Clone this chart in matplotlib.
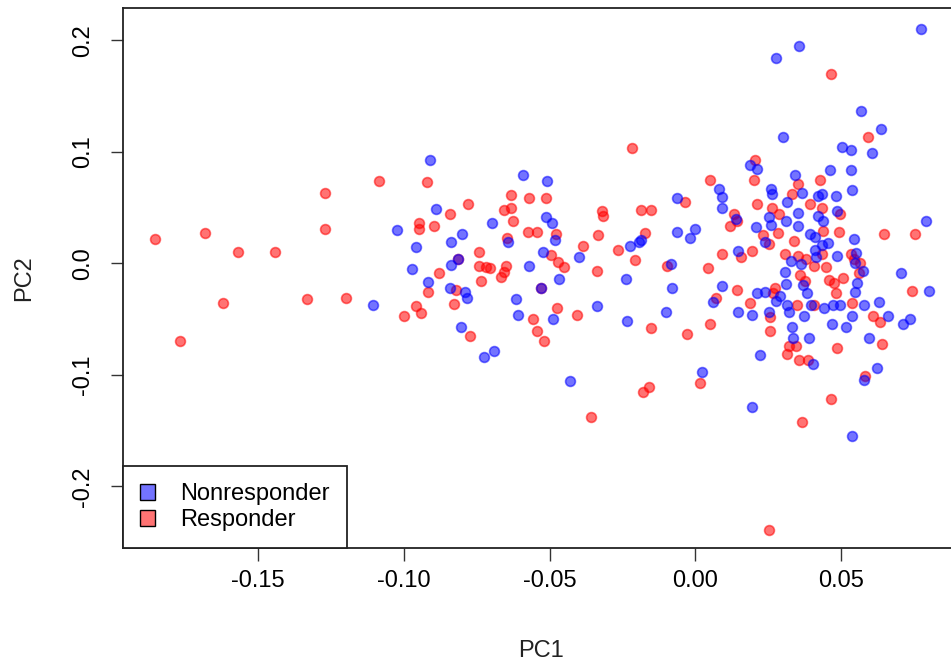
import numpy as np
import matplotlib.pyplot as plt
from matplotlib.patches import Patch

plt.rcParams['font.family'] = ['Liberation Sans', 'DejaVu Sans']
plt.rcParams['axes.unicode_minus'] = False

# Nonresponder (blue)
nonresp_pc1 = [-0.1107, -0.1024, -0.0972, -0.0957, -0.0916, -0.0909, -0.0889, -0.0843, -0.0837, -0.0837,
               -0.0816, -0.0801, -0.0789, -0.0785, -0.0805, -0.0724, -0.0691, -0.0697, -0.0643, -0.0616,
               -0.0608, -0.0593, -0.0572, -0.0529, -0.0524, -0.0514, -0.0510, -0.0493, -0.0489, -0.0483,
               -0.0468, -0.0431, -0.0400, -0.0337, -0.0239, -0.0233, -0.0225, -0.0194, -0.0185, -0.0100,
               -0.0081, -0.0085, -0.0062, -0.0062, -0.0019, -0.0002, 0.0023, 0.0060, 0.0081, 0.0090,
               0.0090, 0.0090, 0.0139, 0.0148, 0.0148, 0.0187, 0.0196, 0.0194, 0.0212, 0.0212,
               0.0208, 0.0223, 0.0240, 0.0240, 0.0252, 0.0252, 0.0260, 0.0262, 0.0258, 0.0277,
               0.0277, 0.0289, 0.0302, 0.0310, 0.0308, 0.0312, 0.0314, 0.0320, 0.0316, 0.0329,
               0.0333, 0.0335, 0.0341, 0.0354, 0.0356, 0.0352, 0.0364, 0.0366, 0.0368, 0.0373,
               0.0383, 0.0391, 0.0395, 0.0398, 0.0404, 0.0410, 0.0412, 0.0414, 0.0420, 0.0422,
               0.0433, 0.0439, 0.0435, 0.0443, 0.0454, 0.0462, 0.0472, 0.0470, 0.0481, 0.0485,
               0.0485, 0.0495, 0.0504, 0.0516, 0.0535, 0.0533, 0.0537, 0.0543, 0.0547, 0.0547,
               0.0537, 0.0539, 0.0552, 0.0556, 0.0568, 0.0576, 0.0579, 0.0579, 0.0595, 0.0606,
               0.0622, 0.0631, 0.0637, 0.0662, 0.0706, 0.0714, 0.0735, 0.0776, 0.0793, 0.0803]
nonresp_pc2 = [-0.0369, 0.0297, -0.0053, 0.0145, -0.0167, 0.0928, 0.0487, -0.0224, 0.0194, -0.0015,
               0.0042, 0.0259, -0.0255, -0.0312, -0.0567, -0.0841, -0.0787, 0.0365, 0.0194, -0.0320,
               -0.0460, 0.0795, -0.0027, -0.0224, 0.0103, 0.0415, 0.0742, 0.0358, -0.0498, 0.0213,
               -0.0141, -0.1054, 0.0061, -0.0384, -0.0137, -0.0517, 0.0156, 0.0194, 0.0209, -0.0437,
               -0.0224, -0.0008, 0.0590, 0.0281, 0.0232, 0.0308, -0.0970, -0.0350, 0.0666, 0.0593,
               0.0498, -0.0202, 0.0396, 0.0110, -0.0434, 0.0879, -0.1290, -0.0460, 0.0848, -0.0266,
               0.0323, -0.0825, -0.0255, 0.0190, -0.0434, 0.0415, 0.0669, 0.0620, 0.0346, 0.1841,
               -0.0339, -0.0293, 0.1137, 0.0377, -0.0080, -0.0186, -0.0377, -0.0437, 0.0548, 0.0019,
               -0.0567, -0.0666, 0.0795, 0.0449, 0.1951, 0.0331, -0.0004, 0.0635, -0.0194, -0.0472,
               -0.0270, -0.0670, 0.0259, -0.0369, -0.0901, 0.0118, 0.0240, 0.0061, 0.0601, 0.0422,
               0.0164, 0.0384, 0.0624, -0.0396, 0.0183, 0.0833, -0.0369, -0.0548, 0.0605, 0.0468,
               0.0068, -0.0369, 0.1042, -0.0567, 0.1020, 0.0837, 0.0662, 0.0221, 0.0004, -0.0255,
               -0.0475, -0.1544, 0.0095, -0.0179, 0.1369, -0.0065, -0.0369, -0.1042, -0.0670, 0.0989,
               -0.0940, -0.0346, 0.1206, -0.0475, -0.0084, -0.0544, -0.0502, 0.2103, 0.0377, -0.0251]

# Responder (red)
resp_pc1 = [-0.1854, -0.1684, -0.1769, -0.1621, -0.1569, -0.1444, -0.1332, -0.1272, -0.1270, -0.1197,
            -0.1086, -0.0999, -0.0959, -0.0943, -0.0947, -0.0947, -0.0920, -0.0916, -0.0897, -0.0878,
            -0.0843, -0.0828, -0.0822, -0.0780, -0.0772, -0.0741, -0.0741, -0.0737, -0.0720, -0.0706,
            -0.0668, -0.0658, -0.0651, -0.0658, -0.0631, -0.0631, -0.0624, -0.0647, -0.0572, -0.0574,
            -0.0545, -0.0556, -0.0545, -0.0520, -0.0514, -0.0495, -0.0477, -0.0475, -0.0470, -0.0452,
            -0.0406, -0.0385, -0.0359, -0.0335, -0.0337, -0.0320, -0.0316, -0.0266, -0.0219, -0.0208,
            -0.0185, -0.0173, -0.0152, -0.0181, -0.0160, -0.0152, -0.0096, -0.0035, -0.0029, 0.0015,
            0.0042, 0.0050, 0.0050, 0.0071, 0.0092, 0.0119, 0.0133, 0.0142, 0.0144, 0.0156,
            0.0187, 0.0196, 0.0200, 0.0206, 0.0212, 0.0233, 0.0252, 0.0252, 0.0256, 0.0256,
            0.0262, 0.0268, 0.0275, 0.0283, 0.0287, 0.0306, 0.0314, 0.0323, 0.0331, 0.0339,
            0.0345, 0.0352, 0.0356, 0.0348, 0.0352, 0.0358, 0.0366, 0.0375, 0.0381, 0.0385,
            0.0393, 0.0408, 0.0408, 0.0427, 0.0433, 0.0435, 0.0439, 0.0447, 0.0460, 0.0466,
            0.0464, 0.0477, 0.0481, 0.0487, 0.0493, 0.0495, 0.0506, 0.0535, 0.0537, 0.0543,
            0.0560, 0.0564, 0.0581, 0.0591, 0.0610, 0.0635, 0.0639, 0.0647, 0.0745, 0.0755,
            -0.0816, -0.0529]
resp_pc2 = [0.0220, 0.0274, -0.0692, -0.0358, 0.0103, 0.0103, -0.0320, 0.0628, 0.0310, -0.0308,
            0.0742, -0.0475, -0.0380, -0.0449, 0.0358, 0.0310, 0.0727, -0.0255, 0.0339, -0.0084,
            0.0441, -0.0361, -0.0243, 0.0533, -0.0650, 0.0099, -0.0023, -0.0156, -0.0034, -0.0042,
            -0.0126, -0.0080, -0.0027, 0.0475, 0.0498, 0.0609, 0.0384, 0.0224, 0.0582, 0.0285,
            0.0285, -0.0498, -0.0609, -0.0692, 0.0586, 0.0072, 0.0266, -0.0399, 0.0015, -0.0034,
            -0.0464, 0.0156, -0.1376, 0.0251, -0.0072, 0.0472, 0.0422, 0.0122, 0.1031, 0.0027,
            0.0479, 0.0274, 0.0475, -0.1156, -0.1111, -0.0578, -0.0027, 0.0548, -0.0635, -0.1073,
            -0.0042, 0.0749, -0.0544, -0.0308, 0.0080, 0.0335, 0.0441, 0.0384, -0.0243, 0.0061,
            -0.0358, 0.0110, 0.0749, 0.0928, 0.0536, 0.0251, -0.2393, 0.0175, -0.0483, -0.0605,
            0.0498, -0.0262, -0.0217, 0.0274, 0.0445, 0.0087, -0.0814, -0.0738, 0.0624, 0.0205,
            -0.0738, 0.0711, -0.0863, -0.0369, 0.0068, -0.0103, -0.1423, -0.0160, 0.0042, -0.0871,
            0.0536, -0.0369, -0.0027, 0.0746, 0.0080, 0.0494, 0.0289, -0.0034, -0.0148, 0.1700,
            -0.1213, -0.0179, -0.0266, -0.0761, 0.0278, 0.0441, -0.0129, 0.0080, -0.0358, 0.0038,
            -0.0084, 0.0004, -0.1012, 0.1137, -0.0475, -0.0529, -0.0719, 0.0262, -0.0251, 0.0262,
            0.0042, -0.0224]

xticks = [-0.15, -0.10, -0.05, 0.00, 0.05]
xticklabels = ['-0.15', '-0.10', '-0.05', '0.00', '0.05']
yticks = [-0.2, -0.1, 0.0, 0.1, 0.2]
yticklabels = ['-0.2', '-0.1', '0.0', '0.1', '0.2']

blue = (0, 0, 1, 0.55)
red = (1, 0, 0, 0.55)
fs = 17

fig = plt.figure(figsize=(9.51, 6.65), dpi=100)
# axes box runs a little past the right edge of the figure, like the cropped original
ax = fig.add_axes([0.1293, 0.1759, 0.8795, 0.812])

ax.scatter(resp_pc1, resp_pc2, s=50, color=red, edgecolors=red, linewidths=1.2, zorder=2)
ax.scatter(nonresp_pc1, nonresp_pc2, s=50, color=blue, edgecolors=blue, linewidths=1.2, zorder=2)

ax.set_xlim(-0.1964, 0.0906)
ax.set_ylim(-0.2553, 0.229)

ax.set_xticks(xticks)
ax.set_xticklabels(xticklabels)
ax.set_yticks(yticks)
ax.set_yticklabels(yticklabels, rotation=90, va='center')
ax.tick_params(direction='out', length=9, width=1, labelsize=fs, color='#333333')
ax.tick_params(axis='x', pad=7)
ax.tick_params(axis='y', pad=12)

for sp in ax.spines.values():
    sp.set_linewidth(1.3)
    sp.set_color('#222222')

ax.set_xlabel('PC1', fontsize=fs, color='#222222')
ax.set_ylabel('PC2', fontsize=fs, color='#222222')
ax.xaxis.set_label_coords(0.5, -0.170)
ax.yaxis.set_label_coords(-0.105, 0.5)

handles = [Patch(facecolor=blue, edgecolor='black', linewidth=1.0, label='Nonresponder'),
           Patch(facecolor=red, edgecolor='black', linewidth=1.0, label='Responder')]
leg = ax.legend(handles=handles, loc='lower left', bbox_to_anchor=(0, 0), borderaxespad=0,
                fontsize=fs, frameon=True, fancybox=False, framealpha=1,
                borderpad=0.72, handlelength=0.65, handleheight=0.65,
                handletextpad=1.05, labelspacing=0.15)
leg.get_frame().set_edgecolor('#222222')
leg.get_frame().set_linewidth(1.3)

fig.savefig('out.png', dpi=100)
